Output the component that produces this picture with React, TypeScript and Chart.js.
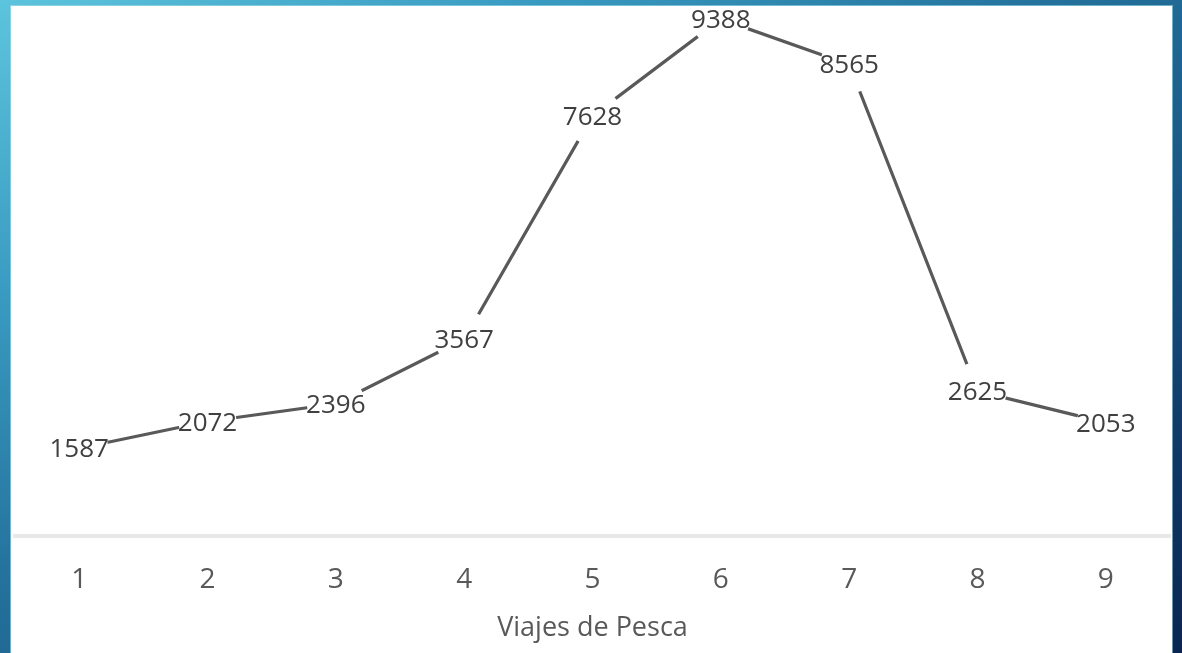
import React, { useEffect, useRef } from "react";
import { Chart, registerables } from "chart.js";

Chart.register(...registerables);

const categories: string[] = ["1", "2", "3", "4", "5", "6", "7", "8", "9"];
const catches: number[] = [1587, 2072, 2396, 3567, 7628, 9388, 8565, 2625, 2053];
const axisTitle = "Viajes de Pesca";
const yMin = 0;
const yMax = 9554;

const FONT = "'Open Sans', 'Noto Sans', sans-serif";

const pointLabelPlugin = {
  id: "pointLabels",
  afterDatasetsDraw(chart: any) {
    const ctx = chart.ctx as CanvasRenderingContext2D;
    const meta = chart.getDatasetMeta(0);
    ctx.save();
    ctx.font = `26px ${FONT}`;
    ctx.fillStyle = "#404040";
    ctx.textAlign = "center";
    ctx.textBaseline = "alphabetic";
    meta.data.forEach((pt: any, i: number) => {
      const txt = String(catches[i]);
      const m = ctx.measureText(txt);
      const h = m.actualBoundingBoxAscent;
      ctx.fillText(txt, pt.x, pt.y + h / 2);
    });
    ctx.restore();
  },
};

export default function App() {
  const canvasRef = useRef<HTMLCanvasElement | null>(null);

  useEffect(() => {
    if (!canvasRef.current) return;
    const chart = new Chart(canvasRef.current, {
      type: "line",
      data: {
        labels: categories,
        datasets: [
          {
            data: catches,
            borderColor: "#595959",
            borderWidth: 3.2,
            tension: 0,
            pointRadius: 29,
            pointHoverRadius: 29,
            pointBackgroundColor: "#ffffff",
            pointBorderColor: "rgba(0,0,0,0)",
            pointBorderWidth: 0,
            fill: false,
          },
        ],
      },
      options: {
        responsive: false,
        animation: false,
        devicePixelRatio: 1,
        layout: { padding: { top: 29, left: 29, right: 29, bottom: 0 } },
        plugins: {
          legend: { display: false },
          title: { display: false },
          tooltip: { enabled: false },
        },
        events: [],
        scales: {
          x: {
            type: "category",
            offset: true,
            grid: { display: false, drawTicks: false },
            border: { display: true, color: "#e8e8e8", width: 4 },
            ticks: {
              color: "#595959",
              font: { family: FONT, size: 28 },
              padding: 28,
              maxRotation: 0,
              autoSkip: false,
            },
            title: {
              display: true,
              text: axisTitle,
              color: "#595959",
              font: { family: FONT, size: 27 },
              padding: { top: 0, bottom: 8 },
            },
            afterFit: (scale: any) => {
              scale.height = 117.5;
            },
          },
          y: {
            display: false,
            min: yMin,
            max: yMax,
          },
        },
      },
      plugins: [pointLabelPlugin],
    });
    return () => chart.destroy();
  }, []);

  return (
    <div
      style={{
        position: "fixed",
        inset: 0,
        width: 1182,
        height: 653,
        overflow: "hidden",
        background:
          "linear-gradient(to bottom right, #5dc4dd 0%, #3a9cc2 22%, #23719c 45%, #1a5683 65%, #0f3765 85%, #0a2650 100%)",
      }}
    >
      <div
        style={{
          position: "absolute",
          left: 11,
          top: 6,
          right: 10,
          bottom: 0,
          background: "#ffffff",
          boxShadow: "0 0 0 1px rgba(170,220,235,0.6)",
        }}
      />
      <canvas
        ref={canvasRef}
        width={1213}
        height={672}
        style={{ position: "absolute", left: -14, top: -19, width: 1213, height: 672 }}
      />
    </div>
  );
}
